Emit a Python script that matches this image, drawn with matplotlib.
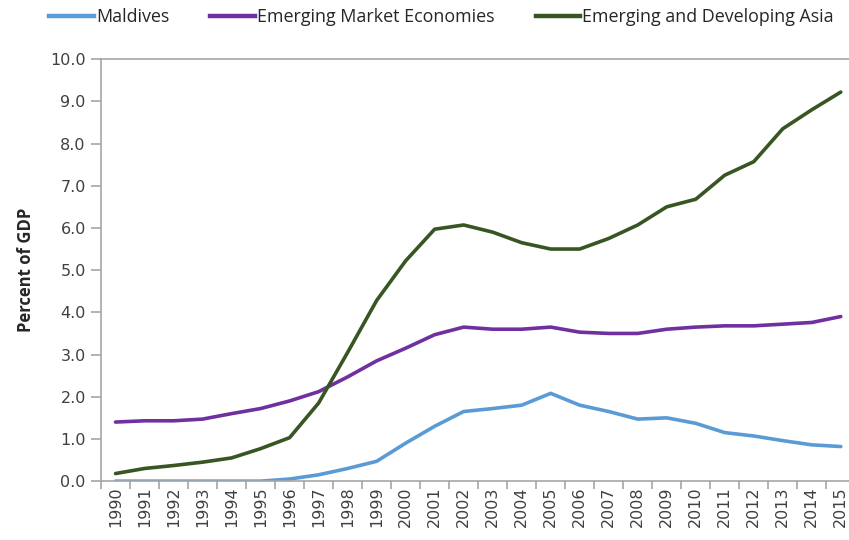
import matplotlib
matplotlib.use("Agg")
import matplotlib.pyplot as plt
from matplotlib.lines import Line2D

years = list(range(1990, 2016))
year_labels = [str(y) for y in years]

maldives = [0.0, 0.0, 0.0, 0.0, 0.0, 0.0, 0.05, 0.15, 0.3, 0.47, 0.9, 1.3, 1.65,
            1.72, 1.8, 2.08, 1.8, 1.65, 1.47, 1.5, 1.37, 1.15, 1.07, 0.96, 0.86, 0.82]
eme = [1.4, 1.43, 1.43, 1.47, 1.6, 1.72, 1.9, 2.12, 2.47, 2.85, 3.15, 3.47, 3.65,
       3.6, 3.6, 3.65, 3.53, 3.5, 3.5, 3.6, 3.65, 3.68, 3.68, 3.72, 3.76, 3.9]
eda = [0.18, 0.3, 0.37, 0.45, 0.55, 0.77, 1.03, 1.85, 3.05, 4.28, 5.22, 5.97, 6.07,
       5.9, 5.65, 5.5, 5.5, 5.75, 6.07, 6.5, 6.68, 7.25, 7.57, 8.35, 8.8, 9.22]

series_names = ["Maldives", "Emerging Market Economies", "Emerging and Developing Asia"]
colors = ["#5B9BD5", "#7030A0", "#375623"]

fig = plt.figure(figsize=(8.49, 5.40), dpi=100)
ax = fig.add_axes([0.119, 0.109, 0.885, 0.7815])

x = list(range(len(years)))
for vals, c in zip([maldives, eme, eda], colors):
    ax.plot(x, vals, color=c, lw=2.6, solid_capstyle="round", solid_joinstyle="round")

ax.set_xlim(-0.45, 25.4)
ax.set_ylim(0, 10)

grey = "#A6A6A6"
ax.spines["right"].set_visible(False)
for s in ["left", "bottom", "top"]:
    ax.spines[s].set_color(grey)
    ax.spines[s].set_linewidth(1.2)

ax.set_yticks([i for i in range(11)])
ax.set_yticklabels([f"{i:.1f}" for i in range(11)], fontsize=11.5, color="#404040",
                   family="DejaVu Sans")
ax.tick_params(axis="y", direction="out", length=7, color=grey, width=1.2, pad=4)

ax.set_xticks([i + 0.5 for i in range(-1, 25)])
ax.set_xticklabels([])
ax.set_xticks(x, minor=True)
ax.set_xticklabels(year_labels, minor=True, rotation=90, fontsize=11.5,
                   color="#404040", family="DejaVu Sans")
ax.tick_params(axis="x", which="major", direction="out", length=6, color=grey, width=1.2)
ax.tick_params(axis="x", which="minor", length=0, pad=4)

ax.set_ylabel("Percent of GDP", fontsize=12, fontweight="bold", color="#262626",
              family="Open Sans", labelpad=11)

handles = [Line2D([0], [0], color=c, lw=3.2) for c in colors]
fig.legend(handles, series_names, loc="upper left", bbox_to_anchor=(0.058, 0.985),
           ncol=3, frameon=False, handlelength=2.5, handletextpad=0.1,
           columnspacing=2.3, borderpad=0, borderaxespad=0,
           prop={"family": "Open Sans", "size": 12.9})
for t in fig.legends[0].get_texts():
    t.set_color("#262626")

fig.savefig("out.png", dpi=100)
